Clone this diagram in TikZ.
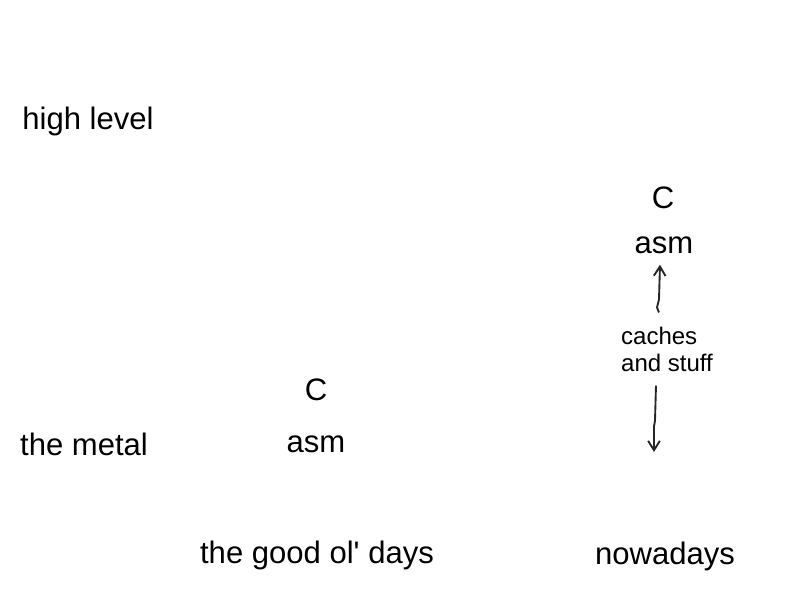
\documentclass[tikz,border=0pt]{standalone}
\usepackage{fontspec}
\setmainfont{Liberation Sans}
\usetikzlibrary{arrows.meta, positioning}

\begin{document}
\begin{tikzpicture}[
    x=0.03cm, y=-0.03cm,
    every node/.style={inner sep=0pt, align=left},
    big/.style={font=\fontsize{26.5}{31}\selectfont},
    small/.style={font=\fontsize{20.5}{23}\selectfont},
    hand/.style={-{Straight Barb[length=8pt, width=10pt]}, line width=1.6pt, draw=black!85}
]
\useasboundingbox (0,0) rectangle (800,600);
% axis labels
\node[big] (high) at (88,121) {high level};
\node[big] (metal) at (84,444) {the metal};
% the good ol' days
\node[big] (cold) at (316,390) {C};
\node[big] (asmold) at (316,444) {asm};
\node[big] (days) at (317,555) {the good ol\textquotesingle{} days};
% nowadays
\node[big] (cnew) at (663,198) {C};
\node[big] (asmnew) at (664,245) {asm};
\node[small] (caches) at (667,349) {caches\\and stuff};
\node[big] (now) at (665,556) {nowadays};
\coordinate (floor) at (654,452);
\draw[hand] ([shift={(-8,-14)}]caches.north) -- ++(-2,-5) -- ++(2,-8) -- ([shift={(-4,11)}]asmnew.south);
\draw[hand] ([shift={(-11,14)}]caches.south) -- ++(-1,35) -- ++(-1,6) -- (floor);
\end{tikzpicture}
\end{document}
